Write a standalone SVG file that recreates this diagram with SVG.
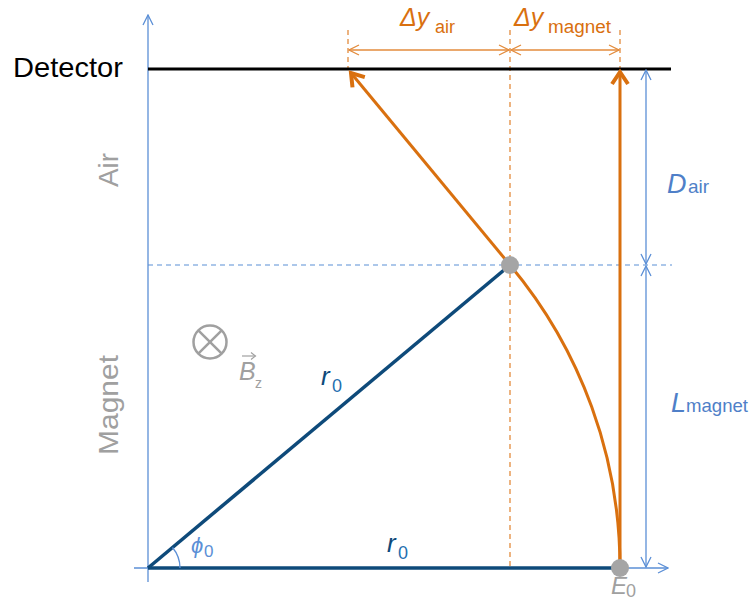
<svg xmlns="http://www.w3.org/2000/svg" width="750" height="603" viewBox="0 0 750 603">
<defs>
<style>
.ax{stroke:#5B8FD6;stroke-width:1.3;fill:none}
.dashb{stroke:#5B8FD6;stroke-width:1.2;stroke-dasharray:5,4;fill:none}
.dasho{stroke:#E38B3C;stroke-width:1.3;stroke-dasharray:5,4;fill:none}
.dimo{stroke:#E38B3C;stroke-width:1.3;fill:none}
.traj{stroke:#D9700F;stroke-width:3;fill:none}
.rad{stroke:#0E4A7A;stroke-width:3.5;fill:none}
.dot{fill:#A5A5A5}
text{font-family:"Liberation Sans",Arial,sans-serif}
.lab{font-size:28px;fill:#A0A0A0}
.it{font-style:italic}
</style>
<marker id="ob" viewBox="0 0 12 12" refX="11" refY="6" markerWidth="12" markerHeight="12" markerUnits="userSpaceOnUse" orient="auto-start-reverse">
<path d="M1,1 L11,6 L1,11" fill="none" stroke="#5B8FD6" stroke-width="1.3"/>
</marker>
<marker id="oo" viewBox="0 0 12 12" refX="11" refY="6" markerWidth="12" markerHeight="12" markerUnits="userSpaceOnUse" orient="auto-start-reverse">
<path d="M1,1 L11,6 L1,11" fill="none" stroke="#E38B3C" stroke-width="1.3"/>
</marker>
<marker id="ao" viewBox="0 0 20 20" refX="16" refY="10" markerWidth="20" markerHeight="20" markerUnits="userSpaceOnUse" orient="auto">
<path d="M4,2 L16,10 L4,18" fill="none" stroke="#D9700F" stroke-width="4" stroke-linejoin="miter"/>
</marker>
</defs>

<g id="connectors">
<line class="ax" x1="148" y1="582" x2="148" y2="15" marker-end="url(#ob)"/>
<line class="ax" x1="134" y1="568" x2="668" y2="568" marker-end="url(#ob)"/>
<line class="dashb" x1="148" y1="265" x2="672" y2="265"/>
<line class="dasho" x1="510" y1="30" x2="510" y2="568"/>
<line class="dasho" x1="348" y1="30" x2="348" y2="69"/>
<line class="dasho" x1="620" y1="30" x2="620" y2="69"/>
<line x1="148" y1="69" x2="671" y2="69" stroke="#000" stroke-width="3"/>
<line class="dimo" x1="349" y1="50" x2="509" y2="50" marker-start="url(#oo)" marker-end="url(#oo)"/>
<line class="dimo" x1="511" y1="50" x2="619" y2="50" marker-start="url(#oo)" marker-end="url(#oo)"/>
<line class="ax" x1="646" y1="70" x2="646" y2="264" marker-start="url(#ob)" marker-end="url(#ob)"/>
<line class="ax" x1="646" y1="266" x2="646" y2="567" marker-start="url(#ob)" marker-end="url(#ob)"/>
<line class="rad" x1="148" y1="568" x2="510" y2="265"/>
<line class="rad" x1="148" y1="568" x2="620" y2="568"/>
<path d="M180,568 A32,32 0 0 0 172.5,547.5" class="ax"/>
<path class="traj" d="M620,568 A472,472 0 0 0 510,265"/>
<line class="traj" x1="510" y1="265" x2="351" y2="73" marker-end="url(#ao)"/>
<line class="traj" x1="620" y1="568" x2="620" y2="72" marker-end="url(#ao)"/>
</g>

<g id="point-exit"><circle class="dot" cx="510" cy="265" r="9"/></g>
<g id="point-source"><circle class="dot" cx="620" cy="568" r="9"/></g>

<g id="field">
<circle cx="210" cy="342" r="16.5" fill="none" stroke="#A0A0A0" stroke-width="2.5"/>
<line x1="198.3" y1="330.3" x2="221.7" y2="353.7" stroke="#A0A0A0" stroke-width="2.5"/>
<line x1="221.7" y1="330.3" x2="198.3" y2="353.7" stroke="#A0A0A0" stroke-width="2.5"/>
<text x="239" y="380" class="it" font-size="25" fill="#A0A0A0">B</text>
<text x="255" y="388" font-size="14" fill="#A0A0A0">z</text>
<line x1="242" y1="356" x2="255" y2="356" stroke="#A0A0A0" stroke-width="1.2"/>
<path d="M251,352.5 L255.5,356 L251,359.5" fill="none" stroke="#A0A0A0" stroke-width="1.2"/>
</g>

<g id="labels">
<text x="13" y="77" font-size="28" fill="#000" textLength="110" lengthAdjust="spacingAndGlyphs">Detector</text>
<text transform="translate(118,170) rotate(-90)" text-anchor="middle" class="lab">Air</text>
<text transform="translate(118,405) rotate(-90)" text-anchor="middle" class="lab" textLength="100" lengthAdjust="spacingAndGlyphs">Magnet</text>
<text x="321" y="385" class="it" font-size="26" fill="#0E4A7A">r</text>
<text x="332" y="392" font-size="18" fill="#1F6FB0">0</text>
<text x="387" y="552" class="it" font-size="26" fill="#0E4A7A">r</text>
<text x="398" y="559" font-size="18" fill="#1F6FB0">0</text>
<text x="191" y="553" class="it" font-size="22" fill="#5B8FD6">ϕ</text>
<text x="204" y="557" font-size="17" fill="#5B8FD6">0</text>
<text x="611" y="594" class="it" font-size="24" fill="#A0A0A0">E</text>
<text x="626" y="597" font-size="18" fill="#A0A0A0">0</text>
<text x="400" y="26" class="it" font-size="25" fill="#D9700F">Δy</text>
<text x="435" y="33" font-size="18" fill="#D9700F">air</text>
<text x="514" y="26" class="it" font-size="25" fill="#D9700F">Δy</text>
<text x="548" y="33" font-size="18" fill="#D9700F" textLength="63" lengthAdjust="spacingAndGlyphs">magnet</text>
<text x="667" y="193" class="it" font-size="27" fill="#4F7FC8">D</text>
<text x="688" y="193" font-size="19" fill="#4F7FC8">air</text>
<text x="671" y="412" class="it" font-size="27" fill="#4F7FC8">L</text>
<text x="686" y="412" font-size="19" fill="#4F7FC8" textLength="62" lengthAdjust="spacingAndGlyphs">magnet</text>
</g>
</svg>
